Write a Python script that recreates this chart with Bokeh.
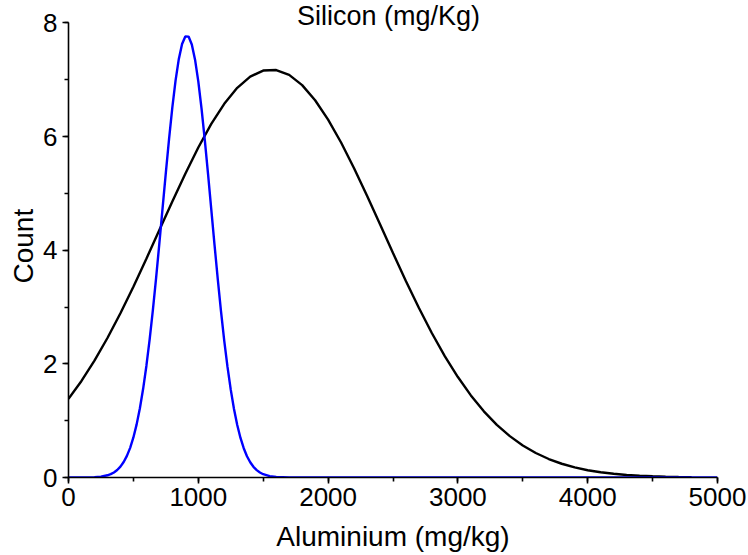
from bokeh.plotting import figure
from bokeh.models import Range1d, SingleIntervalTicker, Label, Title
from bokeh.embed import file_html
from bokeh.resources import INLINE

# Aluminium distribution (black curve)
al_x = [0, 100, 200, 300, 400, 500, 600, 700, 800, 900,
        1000, 1100, 1200, 1300, 1400, 1500, 1600, 1700, 1800, 1900,
        2000, 2100, 2200, 2300, 2400, 2500, 2600, 2700, 2800, 2900,
        3000, 3100, 3200, 3300, 3400, 3500, 3600, 3700, 3800, 3900,
        4000, 4100, 4200, 4300, 4400, 4500, 4600, 4700, 4800]
al_count = [1.386, 1.699, 2.056, 2.455, 2.891, 3.359, 3.851, 4.355, 4.859, 5.348,
            5.809, 6.223, 6.578, 6.859, 7.057, 7.163, 7.172, 7.086, 6.906, 6.640,
            6.299, 5.896, 5.443, 4.958, 4.456, 3.951, 3.456, 2.983, 2.539, 2.133,
            1.768, 1.445, 1.165, 0.927, 0.728, 0.564, 0.431, 0.325, 0.242, 0.177,
            0.128, 0.092, 0.065, 0.045, 0.031, 0.021, 0.014, 0.009, 0.006]

# Silicon distribution (blue curve)
si_x = [0, 100, 200, 250, 300, 325, 350, 375, 400, 425,
        450, 475, 500, 525, 550, 575, 600, 625, 650, 675,
        700, 725, 750, 775, 800, 825, 850, 875, 900, 925,
        950, 975, 1000, 1025, 1050, 1075, 1100, 1125, 1150, 1175,
        1200, 1225, 1250, 1275, 1300, 1325, 1350, 1375, 1400, 1425,
        1450, 1475, 1500, 1550, 1600, 1700, 1800, 5000]
si_count = [0.0, 0.001, 0.006, 0.016, 0.039, 0.059, 0.089, 0.132, 0.191, 0.272,
            0.380, 0.522, 0.705, 0.935, 1.218, 1.561, 1.963, 2.427, 2.946, 3.515,
            4.120, 4.744, 5.367, 5.966, 6.515, 6.990, 7.368, 7.631, 7.764, 7.761,
            7.623, 7.355, 6.973, 6.494, 5.943, 5.343, 4.719, 4.095, 3.492, 2.925,
            2.406, 1.946, 1.546, 1.206, 0.925, 0.696, 0.516, 0.375, 0.268, 0.188,
            0.130, 0.088, 0.058, 0.025, 0.010, 0.001, 0.0, 0.0]

x_title = "Aluminium (mg/kg)"
y_title = "Count"
top_title = "Silicon (mg/Kg)"

FONT = "Liberation Sans"

p = figure(width=748, height=555, output_backend="svg", toolbar_location=None,
           x_range=Range1d(0, 5000), y_range=Range1d(0, 8.396),
           min_border_left=68, min_border_right=31, min_border_top=0, min_border_bottom=78,
           background_fill_color="white", border_fill_color="white")
p.outline_line_color = None
p.grid.visible = False

p.line(al_x, al_count, line_color="black", line_width=2.4)
p.line(si_x, si_count, line_color="#0000FF", line_width=2.4)

p.xaxis.ticker = SingleIntervalTicker(interval=1000, num_minor_ticks=2)
p.yaxis.ticker = SingleIntervalTicker(interval=2, num_minor_ticks=2)
p.yaxis.bounds = (0, 8)

for ax in (p.xaxis[0], p.yaxis[0]):
    ax.axis_line_color = "black"
    ax.axis_line_width = 1.6
    ax.major_tick_line_color = "black"
    ax.major_tick_line_width = 1.6
    ax.minor_tick_line_color = "black"
    ax.minor_tick_line_width = 1.6
    ax.major_tick_in = 0
    ax.major_tick_out = 6
    ax.minor_tick_in = 0
    ax.minor_tick_out = 4
    ax.major_label_text_font = FONT
    ax.major_label_text_font_size = "26px"
    ax.major_label_text_color = "black"
    ax.axis_label_text_font = FONT
    ax.axis_label_text_font_size = "28px"
    ax.axis_label_text_font_style = "normal"
    ax.axis_label_text_color = "black"

p.xaxis.axis_label = x_title
p.xaxis.major_label_standoff = 4
p.xaxis.axis_label_standoff = 12
p.yaxis.major_label_standoff = 5

p.add_layout(Title(text=y_title, align="left", offset=194, standoff=4,
                   text_font=FONT, text_font_size="28px", text_font_style="normal",
                   text_color="black"), "left")

p.add_layout(Label(x=2465, y=8.0, y_offset=7, text=top_title, text_align="center",
                   text_baseline="alphabetic", text_font=FONT,
                   text_font_size="27px", text_color="black"))

open("out.html", "w").write(file_html(p, INLINE))
